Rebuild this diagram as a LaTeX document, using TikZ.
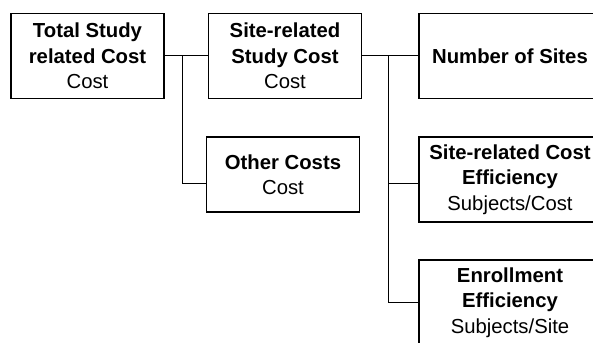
\documentclass[tikz,border=0pt]{standalone}
\usepackage{fontspec}
\setmainfont{Liberation Sans}
\usepackage{tikz}
\tikzstyle{cBox} = [rectangle, minimum width=153pt, minimum height=85pt, align=center, draw=black, line width=1.2pt, inner sep=2pt, font=\fontsize{20.3}{25.5}\selectfont]
\tikzstyle{cWide} = [cBox, minimum width=182pt]
\tikzstyle{cLine} = [line width=1pt]

\begin{document}
\begin{tikzpicture}[node distance=123pt]
    \useasboundingbox (-87.5pt,56pt) rectangle (505.5pt,-286pt);
    \node (total) [cBox] {\textbf{Total Study}\\\textbf{related Cost}\\Cost};
    \node (sitecost) [cBox, right of=total, xshift=74.5pt] {\textbf{Site-related}\\\textbf{Study Cost}\\Cost};
    \node (other) [cBox, below of=sitecost, minimum height=75pt, xshift=-2pt, yshift=4.5pt] {\textbf{Other Costs}\\Cost};
    \node (sites) [cWide, right of=sitecost, xshift=102pt] {\textbf{Number of Sites}};
    \node (efficiency) [cWide, below of=sites, yshift=-0.5pt] {\textbf{Site-related Cost}\\\textbf{Efficiency}\\Subjects/Cost};
    \node (enrollment) [cWide, below of=efficiency] {\textbf{Enrollment}\\\textbf{Efficiency}\\Subjects/Site};

    \coordinate (forkA) at ([xshift=18pt]total.east);
    \coordinate (forkB) at ([xshift=26pt]sitecost.east);

    \draw [cLine] (total) -- (sitecost);
    \draw [cLine] (forkA) |- ([yshift=-8.5pt]other.west);
    \draw [cLine] (sitecost) -- (sites);
    \draw [cLine] (forkB) |- ([yshift=-3.5pt]efficiency.west);
    \draw [cLine] (forkB) |- (enrollment);
\end{tikzpicture}
\end{document}
